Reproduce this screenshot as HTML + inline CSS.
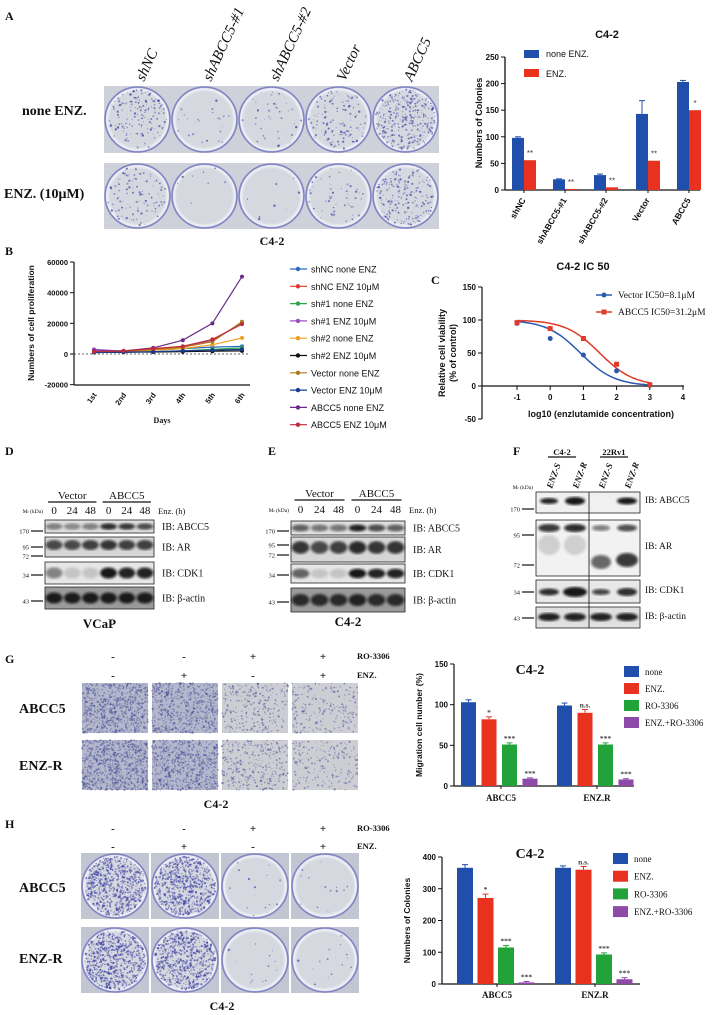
<!DOCTYPE html>
<html><head><meta charset="utf-8"><style>
body{margin:0;background:#fff}
svg{display:block}
.s{font-family:"Liberation Serif",serif}
.a{font-family:"Liberation Sans",sans-serif}
</style></head><body>
<svg id="f" width="719" height="1015" viewBox="0 0 719 1015" xmlns="http://www.w3.org/2000/svg">
<defs>
<radialGradient id="pl" cx="50%" cy="50%" r="50%"><stop offset="0.85" stop-color="#d6d8e0"/><stop offset="0.95" stop-color="#f2f3f8"/><stop offset="1" stop-color="#9296c8"/></radialGradient>
<filter id="bl"><feGaussianBlur stdDeviation="1.2"/></filter>
</defs>
</svg>
<script>
var s=[],f=document.getElementById('f');
var seed=7;function r(){seed=(seed*16807)%2147483647;return seed/2147483647;}
function T(x,y,t,o){o=o||{};s.push('<text x="'+x+'" y="'+y+'" class="'+(o.c||'a')+'" font-size="'+(o.fs||8)+'" font-weight="'+(o.b?'bold':'normal')+'" text-anchor="'+(o.an||'start')+'" fill="'+(o.fill||'#111')+'"'+(o.rot!=null?' transform="rotate('+o.rot+' '+x+' '+y+')"':'')+(o.it?' font-style="italic"':'')+'>'+t+'</text>');}
function R(x,y,w,h,c,e){s.push('<rect x="'+x+'" y="'+y+'" width="'+w+'" height="'+h+'" fill="'+c+'" '+(e||'')+'/>');}
function L(x1,y1,x2,y2,c,w,e){s.push('<line x1="'+x1+'" y1="'+y1+'" x2="'+x2+'" y2="'+y2+'" stroke="'+(c||'#111')+'" stroke-width="'+(w||1)+'" '+(e||'')+'/>');}
function plate(x,y,w,h,n,bg){R(x,y,w,h,bg||'#c9ccd6');s.push('<ellipse cx="'+(x+w/2)+'" cy="'+(y+h/2)+'" rx="'+(w/2-1)+'" ry="'+(h/2-1)+'" fill="url(#pl)" stroke="#8084c2" stroke-width="1.5"/>');
 for(var i=0;i<n;i++){var a=r()*6.283,d=Math.sqrt(r())*0.9;s.push('<circle cx="'+(x+w/2+Math.cos(a)*d*w/2).toFixed(1)+'" cy="'+(y+h/2+Math.sin(a)*d*h/2).toFixed(1)+'" r="'+(0.4+r()*0.8).toFixed(1)+'" fill="#3a3fa0" opacity="'+(0.3+r()*0.45).toFixed(2)+'"/>');}}
// ---- Panel A
T(5,20,'A',{c:'s',b:1,fs:12});
var cols=['shNC','shABCC5-#1','shABCC5-#2','Vector','ABCC5'],nA=[[160,25,40,130,330],[110,8,8,50,200]];
for(var i=0;i<5;i++){var x=104+i*67;T(x+40,82,cols[i],{c:'s',fs:15,rot:-65,it:1});plate(x,86,67,67,nA[0][i],'#cfd1da');plate(x,163,67,66,nA[1][i],'#cfd1da');}
T(22,115,'none ENZ.',{c:'s',b:1,fs:14});T(4,198,'ENZ. (10μM)',{c:'s',b:1,fs:14});T(272,245,'C4-2',{c:'s',b:1,fs:12,an:'middle'});
// A chart
(function(){var y0=190,k=0.532;L(505,57,505,190,'#111',1.3);L(505,190,700,190,'#111',1.3);
[0,50,100,150,200,250].forEach(function(v){L(501,y0-v*k,505,y0-v*k);T(499,y0-v*k+3,v,{b:1,an:'end'});});
T(482,123,'Numbers of Colonies',{b:1,fs:9,an:'middle',rot:-90});T(607,38,'C4-2',{b:1,fs:11,an:'middle'});
R(524,50,15,8,'#1f4faa');T(546,57,'none ENZ.',{fs:9});R(524,69,15,8,'#e8321f');T(546,77,'ENZ.',{fs:9});
var bx=[512,553,594,636,677],b=[98,20,28,143,203],rd=[56,2,5,55,150],st=['**','**','**','**','*'],eb=[2,1,2,25,3],er=[3,1,1,3,2];
for(var i=0;i<5;i++){R(bx[i],y0-b[i]*k,12,b[i]*k,'#1f4faa');L(bx[i]+6,y0-(b[i]+eb[i])*k,bx[i]+6,y0-b[i]*k,'#1f4faa');L(bx[i]+3,y0-(b[i]+eb[i])*k,bx[i]+9,y0-(b[i]+eb[i])*k,'#1f4faa');
R(bx[i]+12,y0-rd[i]*k,12,Math.max(rd[i]*k,1),'#e8321f');T(bx[i]+18,y0-rd[i]*k-4,st[i],{fs:8,an:'middle',fill:'#444'});
L(bx[i]+12,y0,bx[i]+12,y0+3);T(bx[i]+14,200,cols[i],{b:1,fs:8.5,an:'end',rot:-60});}
})();
// ---- Panel B
T(5,255,'B',{c:'s',b:1,fs:12});
(function(){var y0=354,k=0.001533,xs=[94,123.6,153.2,182.8,212.4,242];L(74,262,74,385,'#111',1.2);L(74,385,250,385,'#111',1.2);L(74,354,250,354,'#333',0.8,'stroke-dasharray="2,2"');
[60000,40000,20000,0,-20000].forEach(function(v){L(70,y0-v*k,74,y0-v*k);T(68,y0-v*k+3,v,{b:1,an:'end',fs:7.5});});
['1st','2nd','3rd','4th','5th','6th'].forEach(function(d,i){T(xs[i]+3,395,d,{b:1,fs:7.5,an:'end',rot:-55});});
T(162,423,'Days',{c:'s',b:1,fs:8,an:'middle'});T(34,323,'Numbers of cell proliferation',{b:1,fs:8.5,an:'middle',rot:-90});
var ser=[['#2a6ac0',[1500,1800,2500,3500,4500,5000],'shNC none ENZ'],['#e03a2a',[1000,1500,3000,4500,9000,20000],'shNC ENZ 10μM'],['#2aa84a',[1000,1200,1500,2000,3000,4000],'sh#1 none ENZ'],['#9a50c0',[3000,1800,3000,5000,9000,20000],'sh#1 ENZ 10μM'],['#f0a020',[1000,1500,2500,3500,6000,10500],'sh#2 none ENZ'],['#111',[1000,1200,1300,1500,1800,2000],'sh#2 ENZ 10μM'],['#b07a20',[1000,1500,3000,4500,8000,21000],'Vector none ENZ'],['#1a3a90',[1000,1200,1500,2000,2500,3000],'Vector ENZ 10μM'],['#6a2a8a',[2000,2000,4000,9000,20000,50500],'ABCC5 none ENZ'],['#c02a3a',[1500,2000,3500,5000,9500,19500],'ABCC5 ENZ 10μM']];
ser.forEach(function(q,j){var p=q[1].map(function(v,i){return xs[i]+','+(y0-v*k).toFixed(1);}).join(' ');s.push('<polyline points="'+p+'" fill="none" stroke="'+q[0]+'" stroke-width="1.2"/>');
q[1].forEach(function(v,i){s.push('<circle cx="'+xs[i]+'" cy="'+(y0-v*k)+'" r="2" fill="'+q[0]+'"/>');});
var ly=269+j*17.3;L(290,ly,307,ly,q[0],1.2);s.push('<circle cx="298" cy="'+ly+'" r="2.2" fill="'+q[0]+'"/>');T(311,ly+3.5,q[2],{fs:9});});
})();
// ---- Panel C
T(431,284,'C',{c:'s',b:1,fs:12});
(function(){var X=function(v){return 517+(v+1)*33.2},Y=function(v){return 386-v*0.66};L(482,287,482,419,'#111',1.2);L(482,386,684,386,'#111',1.2);
[150,100,50,0,-50].forEach(function(v){L(478,Y(v),482,Y(v));T(476,Y(v)+3,v,{b:1,an:'end'});});
[-1,0,1,2,3,4].forEach(function(v){L(X(v),386,X(v),390);T(X(v),400,v,{b:1,an:'middle'});});
T(583,270,'C4-2 IC 50',{b:1,fs:11,an:'middle'});T(601,417,'log10 (enzlutamide concentration)',{b:1,fs:9,an:'middle'});
T(445,353,'Relative cell viability',{b:1,fs:9,an:'middle',rot:-90});T(456,353,'(% of control)',{b:1,fs:9,an:'middle',rot:-90});
function cur(e,c){var p=[];for(var v=-1;v<=3.01;v+=0.1)p.push(X(v).toFixed(1)+','+Y(100/(1+Math.pow(10,(v-e)*0.85))).toFixed(1));s.push('<polyline points="'+p.join(' ')+'" fill="none" stroke="'+c+'" stroke-width="1.5"/>');}
cur(0.91,'#2a5ab0');cur(1.49,'#e03a2a');
[[-1,95],[0,72],[1,47],[2,23],[3,1]].forEach(function(p){s.push('<circle cx="'+X(p[0])+'" cy="'+Y(p[1])+'" r="2.5" fill="#2a5ab0"/>');});
[[-1,96],[0,87],[1,72],[2,33],[3,2]].forEach(function(p){R(X(p[0])-2.5,Y(p[1])-2.5,5,5,'#e03a2a');});
L(596,295,612,295,'#2a5ab0',1.5);s.push('<circle cx="604" cy="295" r="2.5" fill="#2a5ab0"/>');T(618,298,'Vector IC50=8.1μM',{c:'s',fs:9.5});
L(596,312,612,312,'#e03a2a',1.5);R(601.5,309.5,5,5,'#e03a2a');T(618,315,'ABCC5 IC50=31.2μM',{c:'s',fs:9.5});
})();
// ---- Blots
function strip(x,y,w,h,bg,bands){R(x,y,w,h,bg,'stroke="#222" stroke-width="0.8"');bands.forEach(function(b){s.push('<ellipse cx="'+b[0]+'" cy="'+b[1]+'" rx="'+b[2]+'" ry="'+b[3]+'" fill="#111" opacity="'+b[4]+'" filter="url(#bl)"/>');});}
function lanes(x0,w,n){var a=[];for(var i=0;i<n;i++)a.push(x0+w*(i+0.5)/n);return a;}
function mk(x,y,t){L(x-14,y,x-2,y,'#111',1.2);T(x-16,y+2.5,t,{c:'s',fs:6.5,an:'end'});}
function blotDE(x0,x1,ys,lab,cell,lyv,lyl,op){var ln=lanes(x0,x1-x0,6);
 T(ln[1],lyv,'Vector',{c:'s',fs:11,an:'middle'});T(ln[4],lyv,'ABCC5',{c:'s',fs:11,an:'middle'});L(ln[0]-6,lyv+3,ln[2]+6,lyv+3,'#111',1.2);L(ln[3]-6,lyv+3,ln[5]+6,lyv+3,'#111',1.2);
 ['0','24','48','0','24','48'].forEach(function(t,i){T(ln[i],lyl,t,{c:'s',fs:11,an:'middle'});});T(x1+4,lyl,'Enz. (h)',{c:'s',fs:8.5});T(x0-2,lyl-1,'M<tspan font-size="4">r</tspan> (kDa)',{c:'s',fs:5.5,an:'end'});
 var nm=['IB: ABCC5','IB: AR','IB: CDK1','IB: β-actin'],bg=['#dedede','#d6d6d6','#e6e6e6','#9a9a9a'];
 ys.forEach(function(q,j){var b=ln.map(function(c,i){return [c,(q[0]+q[1])/2+(j==1?-2:0),(x1-x0)/13,(q[1]-q[0])/4,op[j][i]];});strip(x0,q[0],x1-x0,q[1]-q[0],bg[j],b);T(x1+8,(q[0]+q[1])/2+3.5,nm[j],{c:'s',fs:10});});
 T((x0+x1)/2,cell,lab,{c:'s',b:1,fs:13,an:'middle'});}
T(5,455,'D',{c:'s',b:1,fs:12});T(268,455,'E',{c:'s',b:1,fs:12});T(513,455,'F',{c:'s',b:1,fs:12});
var opD=[[.45,.4,.45,.85,.8,.7],[.7,.7,.75,.8,.75,.75],[.45,.15,.15,.95,.9,.9],[.9,.9,.9,.9,.9,.9]];
blotDE(45,154,[[520,533],[537,557],[562,584],[587,609]],'VCaP',628,499,514,opD);
mk(45,531,'170');mk(45,547,'95');mk(45,556,'72');mk(45,575,'34');mk(45,601,'43');
var opE=[[.6,.5,.5,.9,.7,.6],[.8,.7,.75,.85,.8,.8],[.6,.15,.15,.95,.9,.9],[.8,.8,.8,.85,.8,.8]];
blotDE(291,405,[[521,535],[537,562],[564,583],[588,612]],'C4-2',626,497,513,opE);
mk(291,531,'170');mk(291,545,'95');mk(291,555,'72');mk(291,575,'34');mk(291,602,'43');
(function(){var x0=536,x1=640,ln=lanes(x0,104,4);T(562,455,'C4-2',{c:'s',b:1,fs:8.5,an:'middle'});T(614,455,'22Rv1',{c:'s',b:1,fs:8.5,an:'middle'});L(548,457,576,457,'#111',1.2);L(600,457,628,457,'#111',1.2);
['ENZ-S','ENZ-R','ENZ-S','ENZ-R'].forEach(function(t,i){T(ln[i]+3,489,t,{c:'s',fs:9,rot:-70,it:1,b:1});});T(533,489,'M<tspan font-size="4">r</tspan> (kDa)',{c:'s',fs:5.5,an:'end'});
strip(x0,492,104,21,'#f0f0f0',[[ln[0],501,9,3,.9],[ln[1],501,10,4,.95],[ln[3],501,10,3.5,.95]]);
strip(x0,520,104,56,'#f2f2f2',[[ln[0],528,11,4,.8],[ln[1],528,11,4,.85],[ln[2],528,9,3,.5],[ln[3],528,10,3.5,.7],[ln[0],545,11,10,.15],[ln[1],545,11,10,.15],[ln[2],562,10,7,.6],[ln[3],560,11,7,.8]]);
strip(x0,580,104,23,'#e8e8e8',[[ln[0],592,10,3.5,.85],[ln[1],592,12,5,.95],[ln[2],592,9,3,.75],[ln[3],592,10,4,.85]]);
strip(x0,607,104,21,'#e0e0e0',[[ln[0],617,11,4,.9],[ln[1],617,11,4,.9],[ln[2],617,11,4,.9],[ln[3],617,11,4,.9]]);
L(589,492,589,628,'#111',0.8);
mk(536,509,'170');mk(536,535,'95');mk(536,565,'72');mk(536,592,'34');mk(536,618,'43');
[['IB: ABCC5',503],['IB: AR',549],['IB: CDK1',593],['IB: β-actin',619]].forEach(function(q){T(645,q[1],q[0],{c:'s',fs:9.5});});
})();
// ---- Panel G/H photo blocks
function signs(y1,y2){var xc=[113,184,253,323];['-','-','+','+'].forEach(function(t,i){T(xc[i],y1,t,{c:'s',b:1,fs:11,an:'middle'});});['-','+','-','+'].forEach(function(t,i){T(xc[i],y2,t,{c:'s',b:1,fs:11,an:'middle'});});T(357,y1-1,'RO-3306',{c:'s',b:1,fs:8.5});T(357,y2-1,'ENZ.',{c:'s',b:1,fs:8.5});}
T(5,663,'G',{c:'s',b:1,fs:12});signs(660,679);
var dens=[[800,650,300,220],[900,750,350,220]];
[[683,733],[740,790]].forEach(function(q,j){for(var i=0;i<4;i++){var x=82+i*70;R(x,q[0],66,q[1]-q[0],i<2?'#b4b8cc':'#cdced4');for(var n=0;n<dens[j][i];n++)s.push('<circle cx="'+(x+r()*66).toFixed(1)+'" cy="'+(q[0]+r()*(q[1]-q[0])).toFixed(1)+'" r="'+(0.4+r()*0.7).toFixed(1)+'" fill="#3d4290" opacity="'+(0.25+r()*0.35).toFixed(2)+'"/>');}});
T(19,713,'ABCC5',{c:'s',b:1,fs:14});T(19,770,'ENZ-R',{c:'s',b:1,fs:14});T(216,808,'C4-2',{c:'s',b:1,fs:12,an:'middle'});
T(5,828,'H',{c:'s',b:1,fs:12});signs(832,850);
[[853,919],[927,993]].forEach(function(q){for(var i=0;i<4;i++){var x=81+i*70;plate(x,q[0],68,q[1]-q[0],i<2?700:15,'#c2c5d2');}});
T(19,892,'ABCC5',{c:'s',b:1,fs:14});T(19,963,'ENZ-R',{c:'s',b:1,fs:14});T(222,1010,'C4-2',{c:'s',b:1,fs:12,an:'middle'});
// G/H charts
function grp(ax,x1,yt,y0,vmax,ticks,ylab,vals,errs,stars,bxs,bw,title,ty,lx,ly,lstep,caty){var k=(y0-yt)/vmax,cs=['#1f4faa','#e8321f','#22a33a','#8e4aa8'];
 L(ax,yt,ax,y0,'#111',1.2);L(ax,y0,x1,y0,'#111',1.2);ticks.forEach(function(v){L(ax-4,y0-v*k,ax,y0-v*k);T(ax-6,y0-v*k+3,v,{b:1,an:'end'});});
 T(ax-32,(yt+y0)/2,ylab,{b:1,fs:8.5,an:'middle',rot:-90});T(530,ty,title,{c:'s',b:1,fs:14,an:'middle'});
 vals.forEach(function(g,gi){g.forEach(function(v,i){var x=bxs[gi]+i*20.5;R(x,y0-v*k,bw,v*k,cs[i]);var e=y0-(v+errs[gi][i])*k;L(x+bw/2,e,x+bw/2,y0-v*k,cs[i]);L(x+bw/2-3,e,x+bw/2+3,e,cs[i]);if(stars[gi][i])T(x+bw/2,e-2,stars[gi][i],{c:'s',b:1,fs:7.5,an:'middle',fill:'#444'});});L(bxs[gi]+40,y0,bxs[gi]+40,y0+3);});
 T(bxs[0]+40,caty,'ABCC5',{c:'s',b:1,fs:9,an:'middle'});T(bxs[1]+40,caty,'ENZ.R',{c:'s',b:1,fs:9,an:'middle'});
 ['none','ENZ.','RO-3306','ENZ.+RO-3306'].forEach(function(t,i){R(lx,ly+i*lstep-5,15,11,cs[i]);T(lx+21,ly+i*lstep+4,t,{c:'s',fs:9});});}
grp(454,634,664,786,150,[0,50,100,150],'Migration cell number (%)',[[103,82,51,9],[99,90,51,8]],[[3,3,2,1],[3,4,2,1]],[['','*','***','***'],['','n.s.','***','***']],[461,557],15,'C4-2',674,624,671,17,801);
grp(442,640,857,984,400,[0,100,200,300,400],'Numbers of Colonies',[[366,271,115,5],[366,360,93,15]],[[10,12,6,3],[6,10,5,5]],[['','*','***','***'],['','n.s.','***','***']],[457,555],16,'C4-2',858,613,858,17.7,998);
f.insertAdjacentHTML('beforeend',s.join(''));
</script>
</body></html>
